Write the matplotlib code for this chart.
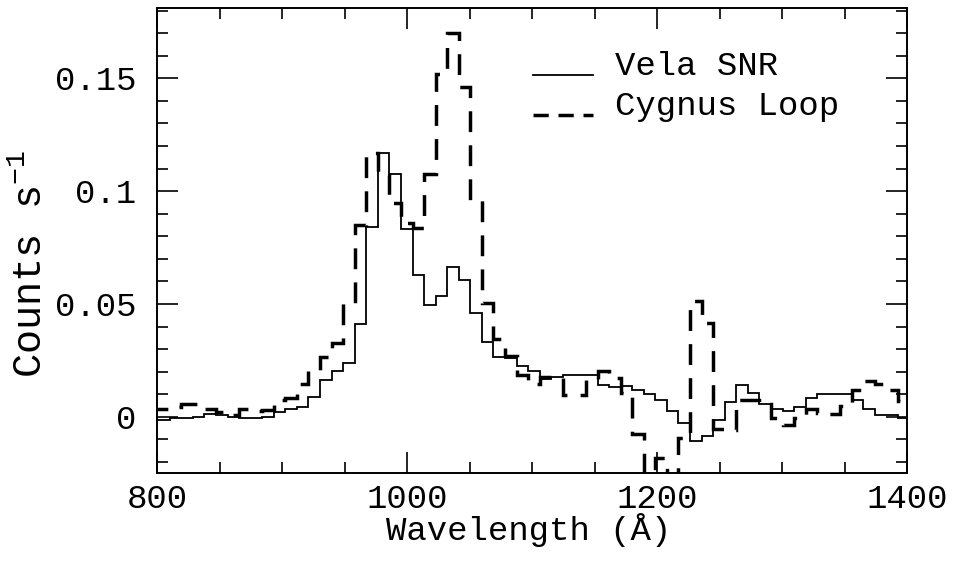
import numpy as np
import matplotlib
matplotlib.use("Agg")
import matplotlib.pyplot as plt
from matplotlib.ticker import MultipleLocator, FuncFormatter

plt.rcParams['font.family'] = ['Liberation Mono', 'DejaVu Sans']
plt.rcParams['mathtext.fontset'] = 'custom'
plt.rcParams['mathtext.rm'] = 'Liberation Mono'
plt.rcParams['mathtext.default'] = 'regular'
plt.rcParams['lines.scale_dashes'] = False

# binned spectra, uniform bins in wavelength (A)
BIN_START = 791.65
BIN_WIDTH = 9.25

vela = [-0.0015,
        -0.0012, -0.0007, -0.0003, 0.0000, 0.0015, 0.0010, 0.0000, -0.0004, -0.0007, 0.0000,
        0.0022, 0.0037, 0.0044, 0.0086, 0.0163, 0.0203, 0.0237, 0.0411, 0.0843, 0.1169,
        0.1077, 0.0831, 0.0630, 0.0496, 0.0534, 0.0663, 0.0607, 0.0462, 0.0330, 0.0266,
        0.0263, 0.0224, 0.0204, 0.0170, 0.0175, 0.0184, 0.0185, 0.0185, 0.0143, 0.0132,
        0.0138, 0.0121, 0.0100, 0.0075, 0.0028, -0.0028, -0.0107, -0.0084, -0.0012, 0.0068,
        0.0142, 0.0104, 0.0059, 0.0037, 0.0028, 0.0044, 0.0085, 0.0103, 0.0103, 0.0103,
        0.0073, 0.0035, 0.0008, 0.0008, -0.0007]

cygnus = [0.0037,
          0.0037, 0.0045, 0.0058, 0.0055, 0.0035, 0.0022, 0.0008, 0.0037, 0.0025, 0.0030,
          0.0074, 0.0084, 0.0145, 0.0203, 0.0266, 0.0326, 0.0506, 0.0850, 0.1170, 0.1070,
          0.0947, 0.0858, 0.0835, 0.1077, 0.1520, 0.1700, 0.1460, 0.0960, 0.0506, 0.0343,
          0.0269, 0.0187, 0.0145, 0.0175, 0.0177, 0.0096, 0.0096, 0.0170, 0.0204, 0.0173,
          0.0105, -0.0075, -0.0400, -0.0180, -0.0400, -0.0094, 0.0515, 0.0414, -0.0055, -0.0058,
          0.0074, 0.0074, 0.0056, -0.0003, -0.0037, -0.0003, 0.0034, 0.0018, 0.0015, 0.0047,
          0.0118, 0.0160, 0.0145, 0.0120, 0.0069]

labels = ['Vela SNR', 'Cygnus Loop']

edges = BIN_START + BIN_WIDTH * np.arange(len(vela) + 1)

fig = plt.figure(figsize=(9.54, 5.7), dpi=100)
ax = fig.add_axes([0.1646, 0.1696, 0.7862, 0.8158])

FS = 24.5
DASH = (0, (15, 9.5))
ax.stairs(vela, edges, baseline=None, color='k', lw=1.3)
ax.stairs(cygnus, edges, baseline=None, color='k', lw=2.5, linestyle=DASH)

ax.set_xlim(800, 1400)
ax.set_ylim(-0.025, 0.181)

ax.xaxis.set_major_locator(MultipleLocator(200))
ax.xaxis.set_minor_locator(MultipleLocator(50))
ax.yaxis.set_major_locator(MultipleLocator(0.05))
ax.yaxis.set_minor_locator(MultipleLocator(0.01))
ax.yaxis.set_major_formatter(FuncFormatter(lambda v, p: f'{v:g}'))

ax.tick_params(which='both', direction='in', top=True, right=True, width=1.2)
ax.tick_params(which='major', length=15)
ax.tick_params(which='minor', length=8)
ax.tick_params(axis='x', labelsize=FS, pad=8)
ax.tick_params(axis='y', labelsize=FS, pad=15)
for s in ax.spines.values():
    s.set_linewidth(1.4)

fig.text(529 / 954, 1 - 530 / 570, 'Wavelength (Å)', ha='center', va='center', fontsize=FS)
fig.text(31 / 954, 1 - 264 / 570, 'Counts s$^{-1}$', ha='center', va='center',
         rotation=90, fontsize=29)

# hand-placed key, as in the original
ax.plot([0.501, 0.581], [0.856, 0.856], transform=ax.transAxes, color='k', lw=1.3)
ax.plot([0.501, 0.581], [0.771, 0.771], transform=ax.transAxes, color='k', lw=2.5,
        linestyle=(0, (11, 7)))
ax.text(0.611, 0.856, labels[0], transform=ax.transAxes, fontsize=FS, va='baseline')
ax.text(0.611, 0.771, labels[1], transform=ax.transAxes, fontsize=FS, va='baseline')

fig.savefig('out.png', dpi=100)
